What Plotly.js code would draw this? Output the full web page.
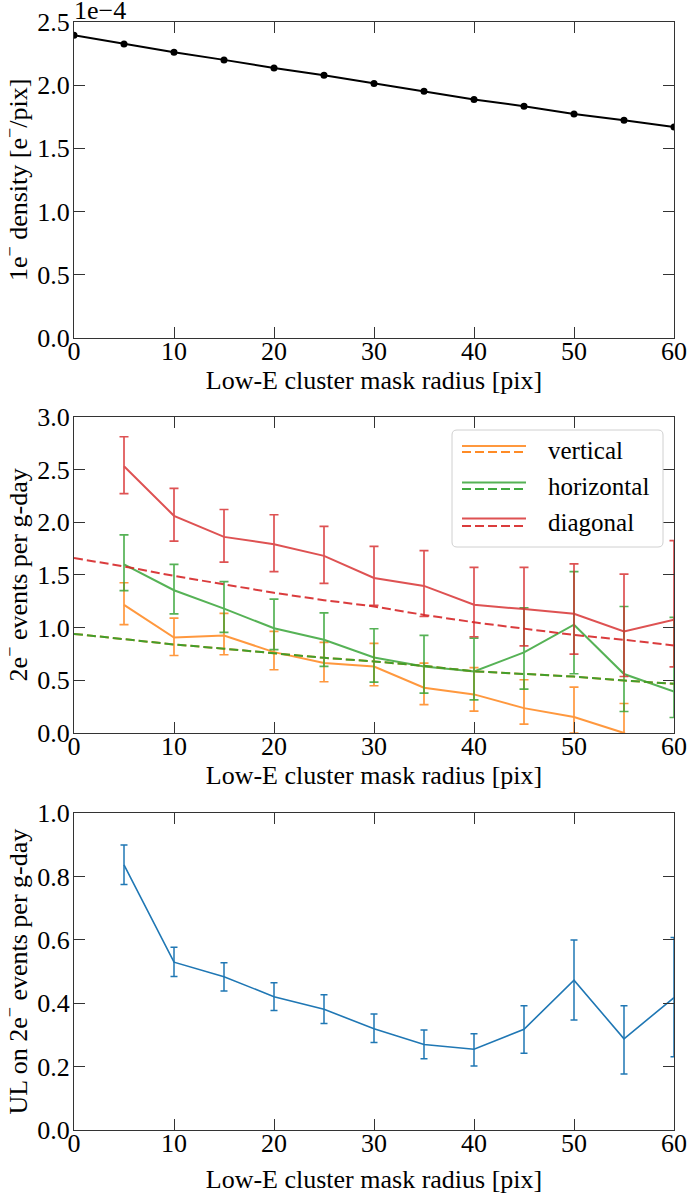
<!DOCTYPE html>
<html>
<head>
<meta charset="utf-8">
<script src="https://cdn.plot.ly/plotly-3.0.1.min.js"></script>
<style>html,body{margin:0;padding:0;background:#fff;}#chart{width:689px;height:1194px;}</style>
</head>
<body>
<div id="chart"></div>
<script>
// ---------------- data ----------------
const radius = [0, 5, 10, 15, 20, 25, 30, 35, 40, 45, 50, 55, 60];
const radiusEv = [5, 10, 15, 20, 25, 30, 35, 40, 45, 50, 55, 60];

// 1e- density, in units of 1e-4 e-/pix
const density = [2.395, 2.326, 2.26, 2.20, 2.136, 2.078, 2.013, 1.952, 1.886, 1.833, 1.772, 1.722, 1.669];

// 2e- events per g-day (measured), with upper / lower error-bar ends
const vertical     = [1.216, 0.906, 0.925, 0.767, 0.663, 0.631, 0.429, 0.366, 0.236, 0.151, 0.0, -0.35];
const verticalUp   = [1.425, 1.09, 1.134, 0.963, 0.86, 0.85, 0.663, 0.621, 0.505, 0.435, 0.28, -0.05];
const verticalLo   = [1.027, 0.735, 0.742, 0.60, 0.486, 0.448, 0.27, 0.208, 0.084, 0.0, -0.15, -0.5];

const horizontal   = [1.60, 1.354, 1.18, 0.993, 0.884, 0.716, 0.631, 0.584, 0.764, 1.027, 0.559, 0.394];
const horizontalUp = [1.88, 1.60, 1.435, 1.27, 1.14, 0.989, 0.925, 0.90, 1.188, 1.53, 1.20, 1.096];
const horizontalLo = [1.35, 1.13, 0.955, 0.79, 0.631, 0.483, 0.378, 0.315, 0.416, 0.562, 0.204, 0.147];

const diagonal     = [2.53, 2.06, 1.86, 1.79, 1.68, 1.47, 1.395, 1.216, 1.175, 1.131, 0.963, 1.074];
const diagonalUp   = [2.81, 2.32, 2.12, 2.07, 1.96, 1.77, 1.73, 1.571, 1.571, 1.605, 1.507, 1.824];
const diagonalLo   = [2.27, 1.82, 1.62, 1.53, 1.42, 1.21, 1.105, 0.913, 0.827, 0.748, 0.536, 0.628];

// expected 2e- rates (dashed)
const vertExpected = [0.94, 0.89, 0.84, 0.80, 0.756, 0.713, 0.679, 0.637, 0.585, 0.56, 0.535, 0.498, 0.467];
const horzExpected = [0.94, 0.89, 0.84, 0.80, 0.756, 0.713, 0.679, 0.637, 0.585, 0.56, 0.535, 0.498, 0.467];
const diagExpected = [1.66, 1.58, 1.49, 1.41, 1.33, 1.26, 1.20, 1.12, 1.05, 0.99, 0.93, 0.884, 0.83];

// upper limit on 2e- events per g-day
const upperLimit   = [0.837, 0.53, 0.484, 0.421, 0.381, 0.32, 0.27, 0.255, 0.318, 0.473, 0.288, 0.418];
const upperLimitUp = [0.90, 0.577, 0.528, 0.465, 0.427, 0.366, 0.316, 0.304, 0.392, 0.60, 0.3925, 0.608];
const upperLimitLo = [0.775, 0.485, 0.439, 0.377, 0.336, 0.276, 0.225, 0.202, 0.242, 0.347, 0.177, 0.231];

const xTicks = [0, 10, 20, 30, 40, 50, 60];
const legendNames = ['vertical', 'horizontal', 'diagonal'];

// ---------------- styling ----------------
const C = {orange: '#ff7f0e', green: '#2ca02c', red: '#d62728', blue: '#1f77b4'};
const FONT = 'Liberation Serif';
const FS = 26;
const PW = 689, PH = 1194, ML = 74, MR = 15, MT = 22, MB = 64;
function px2x(px) { return (px - ML) / (PW - ML - MR); }
function py2y(py) { return (PH - MB - py) / (PH - MT - MB); }

function up(v, u) { return u.map((x, i) => x - v[i]); }
function lo(v, l) { return l.map((x, i) => v[i] - x); }

const traces = [];
traces.push({x: radius, y: density, xaxis: 'x', yaxis: 'y', mode: 'lines+markers',
  line: {color: '#000', width: 2}, marker: {color: '#000', size: 7}, showlegend: false});

function evTrace(v, u, l, color) {
  return {x: radiusEv, y: v, xaxis: 'x2', yaxis: 'y2', mode: 'lines', opacity: 0.8,
    line: {color: color, width: 2},
    error_y: {type: 'data', symmetric: false, array: up(v, u), arrayminus: lo(v, l),
      color: color, thickness: 1.7, width: 4.5},
    showlegend: false};
}
function expTrace(v, color) {
  return {x: radius, y: v, xaxis: 'x2', yaxis: 'y2', mode: 'lines', opacity: 0.9,
    line: {color: color, width: 2, dash: '9px,4px'}, showlegend: false};
}
traces.push(evTrace(vertical, verticalUp, verticalLo, C.orange));
traces.push(evTrace(horizontal, horizontalUp, horizontalLo, C.green));
traces.push(evTrace(diagonal, diagonalUp, diagonalLo, C.red));
traces.push(expTrace(vertExpected, C.orange));
traces.push(expTrace(horzExpected, C.green));
traces.push(expTrace(diagExpected, C.red));

traces.push({x: radiusEv, y: upperLimit, xaxis: 'x3', yaxis: 'y3', mode: 'lines',
  line: {color: C.blue, width: 1.6},
  error_y: {type: 'data', symmetric: false, array: up(upperLimit, upperLimitUp),
    arrayminus: lo(upperLimit, upperLimitLo), color: C.blue, thickness: 1.5, width: 3.5},
  showlegend: false});

function xAxis(anchor, standoff) {
  return {anchor: anchor, range: [0, 60], tickvals: xTicks, ticks: 'inside', ticklen: 11,
    tickwidth: 1, tickcolor: '#333', showline: true, linecolor: '#333', linewidth: 1,
    mirror: 'ticks', showgrid: false, zeroline: false, ticklabelstandoff: -10,
    tickfont: {family: FONT, size: FS, color: '#000'},
    title: {text: 'Low-E cluster mask radius [pix]', font: {family: FONT, size: FS, color: '#000'}, standoff: standoff}};
}
function yAxis(anchor, domain, range, dtick, title) {
  return {anchor: anchor, domain: domain, range: range, dtick: dtick, tickformat: '.1f',
    ticks: 'inside', ticklen: 11, tickwidth: 1, tickcolor: '#333', showline: true,
    linecolor: '#333', linewidth: 1, mirror: 'ticks', showgrid: false, zeroline: false,
    ticklabelstandoff: -2,
    tickfont: {family: FONT, size: FS, color: '#000'},
    title: {text: title, font: {family: FONT, size: FS, color: '#000'}, standoff: 13}};
}

const shapes = [];
const annotations = [];
annotations.push({xref: 'paper', yref: 'paper', x: px2x(72), y: py2y(21), xanchor: 'left', yanchor: 'bottom',
  text: '1e\u22124', showarrow: false, font: {family: FONT, size: FS, color: '#000'}, yshift: -6});

(function () {
  const x0 = px2x(452), x1 = px2x(663), y0 = py2y(547), y1 = py2y(430);
  const rx = 5 / (PW - ML - MR), ry = 5 / (PH - MT - MB);
  const p = `M ${x0 + rx} ${y1} L ${x1 - rx} ${y1} Q ${x1} ${y1} ${x1} ${y1 - ry} L ${x1} ${y0 + ry} ` +
    `Q ${x1} ${y0} ${x1 - rx} ${y0} L ${x0 + rx} ${y0} Q ${x0} ${y0} ${x0} ${y0 + ry} ` +
    `L ${x0} ${y1 - ry} Q ${x0} ${y1} ${x0 + rx} ${y1} Z`;
  shapes.push({type: 'path', xref: 'paper', yref: 'paper', path: p,
    fillcolor: 'rgba(255,255,255,0.8)', line: {color: '#d0d0d0', width: 1}});
})();
const legColors = [C.orange, C.green, C.red];
const legSolidY = [446, 482.5, 518.5];
const legDashY = [452, 489, 526];
const legTextY = [450, 487, 522];
legendNames.forEach((name, i) => {
  shapes.push({type: 'line', xref: 'paper', yref: 'paper', x0: px2x(462), x1: px2x(526),
    y0: py2y(legSolidY[i]), y1: py2y(legSolidY[i]), opacity: 0.8, line: {color: legColors[i], width: 2}});
  shapes.push({type: 'line', xref: 'paper', yref: 'paper', x0: px2x(462), x1: px2x(526),
    y0: py2y(legDashY[i]), y1: py2y(legDashY[i]), opacity: 0.9, line: {color: legColors[i], width: 2, dash: '9px,4px'}});
  annotations.push({xref: 'paper', yref: 'paper', x: px2x(546), y: py2y(legTextY[i]), xanchor: 'left',
    yanchor: 'middle', text: name, showarrow: false, font: {family: FONT, size: 25, color: '#000'}});
});

const layout = {
  width: PW, height: PH, margin: {l: ML, r: MR, t: MT, b: MB},
  paper_bgcolor: '#fff', plot_bgcolor: '#fff', showlegend: false,
  font: {family: FONT, size: FS, color: '#000'},
  xaxis: xAxis('y', 2), xaxis2: xAxis('y2', 2), xaxis3: xAxis('y3', 20),
  yaxis: yAxis('x', [py2y(337.7), 1], [0, 2.5], 0.5, '1e<sup>\u2212</sup> density [e<sup>\u2212</sup>/pix]'),
  yaxis2: yAxis('x2', [py2y(733), py2y(416.7)], [0, 3.0], 0.5, '2e<sup>\u2212</sup> events per g-day'),
  yaxis3: yAxis('x3', [0, py2y(813.3)], [0, 1.0], 0.2, 'UL on 2e<sup>\u2212</sup> events per g-day'),
  shapes: shapes, annotations: annotations
};

Plotly.newPlot('chart', traces, layout, {staticPlot: true, displayModeBar: false});
</script>
</body>
</html>
